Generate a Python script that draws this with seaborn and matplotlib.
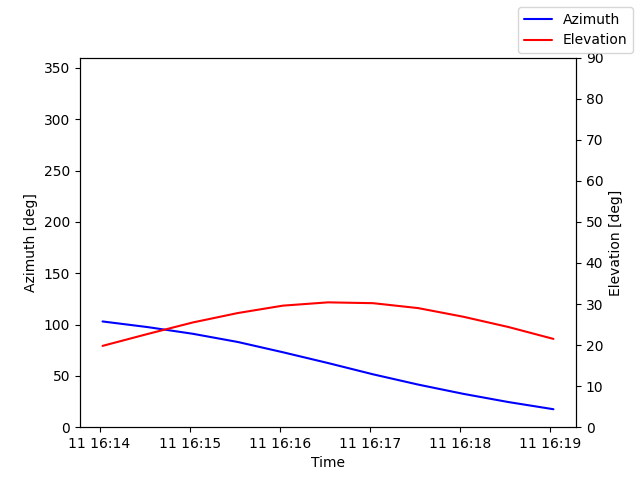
import numpy as np
import pandas as pd
import matplotlib
matplotlib.use("Agg")
import matplotlib.pyplot as plt
import seaborn as sns

# samples every 30 s
times = pd.date_range("2024-01-11 16:14:02", periods=11, freq="30s")
azimuth = [103.0, 97.5, 91.0, 83.0, 73.0, 62.5, 51.5, 41.5, 32.5, 24.5, 17.5]
elevation = [19.8, 22.7, 25.5, 27.8, 29.6, 30.4, 30.2, 29.0, 26.9, 24.4, 21.5]

df = pd.DataFrame({"Time": times, "Azimuth": azimuth, "Elevation": elevation})

sns.set_style("ticks", {
    "text.color": "black",
    "axes.labelcolor": "black",
    "axes.edgecolor": "black",
    "xtick.color": "black",
    "ytick.color": "black",
})
plt.rcParams["font.family"] = ["DejaVu Sans"]

fig, ax = plt.subplots(figsize=(6.4, 4.8), dpi=100)
ax2 = ax.twinx()

sns.lineplot(data=df, x="Time", y="Azimuth", color="blue", label="Azimuth", legend=False, ax=ax)
sns.lineplot(data=df, x="Time", y="Elevation", color="red", label="Elevation", legend=False, ax=ax2)

ax.set_ylim(0, 360)
ax2.set_ylim(0, 90)
ax.set_xlabel("Time")
ax.set_ylabel("Azimuth [deg]")
ax2.set_ylabel("Elevation [deg]")

fig.legend(loc="upper right")
plt.savefig("out.png", dpi=100)
plt.close()
